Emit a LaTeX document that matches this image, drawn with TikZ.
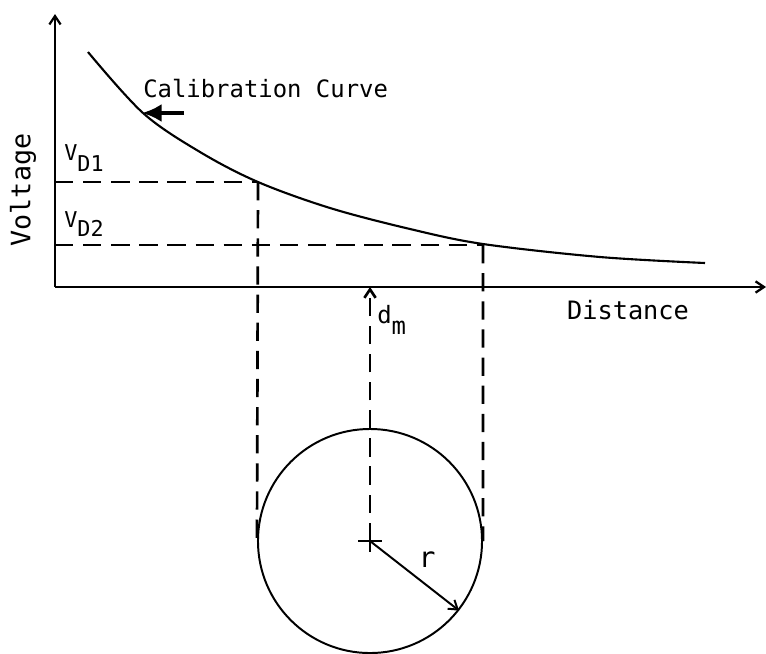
\documentclass[tikz,border=0pt]{standalone}
\usepackage{fontspec}
\setmonofont{DejaVu Sans Mono}
\usetikzlibrary{arrows.meta,positioning,calc}

\begin{document}
\begin{tikzpicture}[x=0.025cm,y=-0.025cm,>={Straight Barb[length=6pt,width=8pt]},
  axis/.style={line width=1.6pt},
  guide/.style={line width=1.9pt,dash pattern=on 13pt off 7pt},
  lbl/.style={font=\ttfamily\fontsize{17}{19}\selectfont,inner sep=0pt},
  sublbl/.style={font=\ttfamily\fontsize{15.5}{17}\selectfont,inner sep=0pt}]
  \useasboundingbox (0,0) rectangle (766,653);
  \coordinate (o) at (55,287);
  \coordinate (ytop) at (55,14);
  \coordinate (xend) at (766,287);
  \draw[axis,->] (o) -- (ytop);
  \draw[axis,->] (o) -- (xend);
  \coordinate (p1) at (258,182);
  \coordinate (p2) at (483,245);
  \draw[line width=1.5pt] plot[smooth,tension=0.55] coordinates
    {(88,52) (143,113) (200,152) (258,182) (330,208) (410,229) (483,244) (600,257) (705,263)};
  \node[draw,circle,line width=1.4pt,inner sep=0pt,minimum size=5.6cm] (disk) at (370,541) {};
  \draw[guide] (o |- p1) -- (p1);
  \draw[guide] (o |- p2) -- (p2);
  \draw[guide] (p1) -- (disk.west);
  \draw[guide] (p2) -- (disk.east);
  \draw[guide,->] (disk.center) -- (disk.center |- o);
  \draw[line width=1.4pt] ($(disk.center)+(-12,0)$) -- ($(disk.center)+(12,0)$);
  \draw[line width=1.4pt] ($(disk.center)+(0,-11)$) -- ($(disk.center)+(0,11)$);
  \draw[line width=1.4pt,->] (disk.center) -- (disk.-38);
  \node[lbl,anchor=base west] (calib) at (143,97) {Calibration Curve};
  \coordinate (ctip) at (142,113);
  \coordinate (ctail) at (184,113);
  \draw[line width=3pt,-{Latex[length=14pt,width=13pt]}] (ctail) -- (ctip);
  \node[lbl,rotate=90,font=\ttfamily\fontsize{19}{21}\selectfont] (volt) at (23,190) {Voltage};
  \node[lbl,font=\ttfamily\fontsize{18}{20}\selectfont] (dist) at (628,310) {Distance};
  \node[sublbl,anchor=base west] (vd1) at (64,160) {V\raisebox{-8pt}{D1}};
  \node[sublbl,anchor=base west] (vd2) at (64,227) {V\raisebox{-7pt}{D2}};
  \node[lbl,anchor=base west] (dm) at (377,323) {d\raisebox{-8pt}{m}};
  \node[font=\ttfamily\fontsize{20}{22}\selectfont,inner sep=0pt] (rlab) at (427,560) {r};
\end{tikzpicture}
\end{document}
